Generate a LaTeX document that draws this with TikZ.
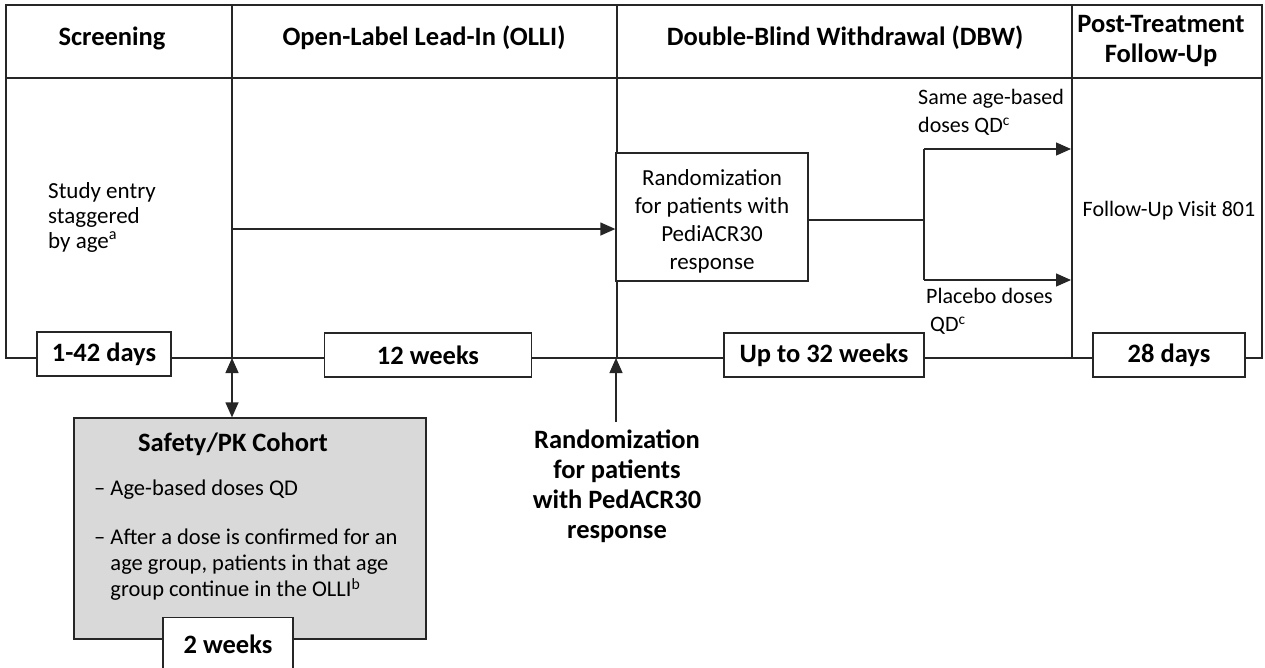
\documentclass[tikz,border=0pt]{standalone}
\usepackage{fontspec}
\setmainfont{Carlito}
\usetikzlibrary{arrows.meta}
\begin{document}
\begin{tikzpicture}[x=1pt,y=-1pt,
  frame/.style={draw=black!85,line width=1.3pt},
  hdr/.style={font=\fontsize{26.5}{29.5}\selectfont\bfseries,align=center,inner sep=0pt},
  body/.style={font=\fontsize{23}{25}\selectfont,inner sep=0pt},
  side/.style={font=\fontsize{22}{28.5}\selectfont,inner sep=0pt},
  dur/.style={draw=black!85,line width=1.3pt,fill=white,minimum height=44pt,
    inner sep=0pt,font=\fontsize{26.5}{29.5}\selectfont\bfseries},
  arr/.style={draw=black!85,line width=1.3pt,-{Triangle[length=15pt,width=13pt]}},
  darr/.style={draw=black!85,line width=1.3pt,{Triangle[length=15pt,width=13pt]}-{Triangle[length=15pt,width=13pt]}},
]
\useasboundingbox (0,0) rectangle (1265,667);
\clip (0,0) rectangle (1265,667);
\fill[white] (0,0) rectangle (1265,667);

% timeline frame, header row and phase dividers
\draw[frame] (6,5) rectangle (1262,358);
\draw[frame] (6,78) -- (1262,78);
\draw[frame] (232,5) -- (232,358);
\draw[frame] (617,5) -- (617,358);
\draw[frame] (1072,5) -- (1072,358);

% phase headings
\node[hdr] (hScr) at (112,38) {Screening};
\node[hdr] (hOlli) at (424,38) {Open-Label Lead-In (OLLI)};
\node[hdr] (hDbw) at (845,38) {Double-Blind Withdrawal (DBW)};
\node[hdr] (hPost) at (1161,41) {Post-Treatment\\Follow-Up};

% phase contents
\node[body,anchor=north west,align=left] (entry) at (48,182) {Study entry\\staggered\\by age\textsuperscript{a}};
\node[draw=black!85,line width=1.3pt,fill=white,minimum width=192pt,minimum height=128pt,inner sep=0pt] (rand) at (712,217) {};
\node[inner sep=0pt,font=\fontsize{23}{28}\selectfont,align=center] (randLbl) at (712,221)
  {Randomization\\for patients with\\PediACR30\\response};
\node[side] (visit) at (1169,211) {Follow-Up Visit 801};
\node[side,anchor=north west,align=left] (same) at (918,89) {Same age-based\\doses QD\textsuperscript{c}};
\node[side,anchor=north west,align=left] (plac) at (926,288) {Placebo doses\\\hspace*{4pt}QD\textsuperscript{c}};

% flow through the double-blind withdrawal
\coordinate (olliStart) at (232,229);
\coordinate (split) at (924,220);
\coordinate (splitUp) at (924,149);
\coordinate (splitDn) at (924,280);
\coordinate (postUp) at (1071,149);
\coordinate (postDn) at (1071,280);
\draw[arr] (olliStart) -- (rand.west |- olliStart);
\draw[frame] (rand.east |- split) -- (split);
\draw[frame] (splitUp) -- (splitDn);
\draw[arr] (splitUp) -- (postUp);
\draw[arr] (splitDn) -- (postDn);

% durations on the timeline
\node[dur,minimum width=134pt] (d1) at (104,354) {1-42 days};
\node[dur,minimum width=207pt] (d2) at (428,355) {12 weeks};
\node[dur,minimum width=200pt] (d3) at (824,355) {Up to 32 weeks};
\node[dur,minimum width=152pt] (d4) at (1169,355) {28 days};

% safety / PK cohort
\node[draw=black!85,line width=1.3pt,fill=black!15,minimum width=352pt,minimum height=221pt,inner sep=0pt] (safety) at (250,528.5) {};
\node[hdr] (sTitle) at (233,444) {Safety/PK Cohort};
\node[anchor=north west,inner sep=0pt,align=left,font=\fontsize{22.5}{26}\selectfont] (sDose) at (94,480) {– Age-based doses QD};
\node[anchor=north west,inner sep=0pt,align=left,font=\fontsize{22.5}{26}\selectfont] (sAfter) at (94,529)
  {– After a dose is confirmed for an\\\phantom{– }age group, patients in that age\\\phantom{– }group continue in the OLLI\textsuperscript{b}};
\node[dur,minimum width=130pt,minimum height=54pt,anchor=north] (d0) at (228,617) {2 weeks};

\coordinate (olliTick) at (232,358);
\draw[darr] (olliTick) -- (safety.north -| olliTick);

% randomization marker
\coordinate (randTick) at (616,358);
\node[hdr,anchor=north,font=\fontsize{26.5}{30}\selectfont\bfseries] (randNote) at (617,430) {Randomization\\for patients\\with PedACR30\\response};
\draw[arr] (randNote.north -| randTick) ++(0,-8) -- (randTick);
\end{tikzpicture}
\end{document}
